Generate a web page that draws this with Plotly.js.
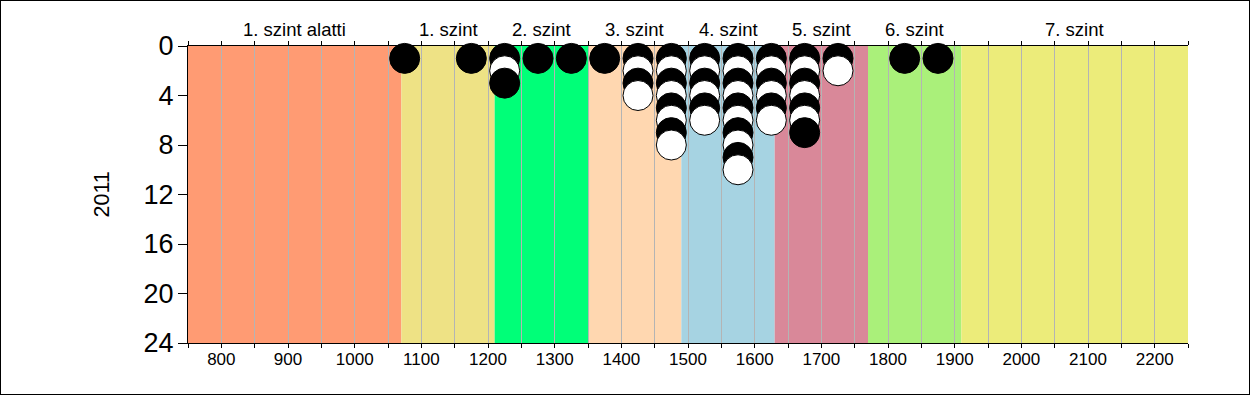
<!DOCTYPE html>
<html>
<head>
<meta charset="utf-8">
<script src="https://cdn.plot.ly/plotly-3.0.1.min.js"></script>
<style>
html,body{margin:0;padding:0;background:#fff;}
#chart{width:1248px;height:393px;border:1px solid #000;}
</style>
</head>
<body>
<div id="chart"></div>
<script>
// Level bands (score ranges)
const bandNames = ["1. szint alatti","1. szint","2. szint","3. szint","4. szint","5. szint","6. szint","7. szint"];
const bandEdges = [750,1070,1210,1350,1490,1630,1770,1910,2250];
const bandColors = ["#FF9B73","#EEE285","#00FF78","#FFD7B0","#A6D3E2","#D98899","#AAF07A","#ECEC7A"];

// Score bins (centres) and number of students in each bin
const binCenters = [1075,1175,1225,1275,1325,1375,1425,1475,1525,1575,1625,1675,1725,1825,1875];
const binCounts  = [1,1,3,1,1,1,4,8,6,10,6,7,2,1,1];

// Axis ticks
const xTickVals = [];
for (let v = 750; v <= 2250; v += 50) xTickVals.push(v);
const xTickText = xTickVals.map(v => (v % 100 === 0 ? String(v) : ""));
const yTickVals = [0,4,8,12,16,20,24];

// Build dot stack points
const px = [], py = [], pc = [];
binCenters.forEach((c, i) => {
  for (let k = 1; k <= binCounts[i]; k++) {
    px.push(c); py.push(k);
    pc.push(k % 2 === 1 ? "#000000" : "#FFFFFF");
  }
});

const shapes = bandNames.map((n, i) => ({
  type: "rect", xref: "x", yref: "paper",
  x0: bandEdges[i], x1: bandEdges[i+1], y0: 0, y1: 1,
  fillcolor: bandColors[i], line: {width: 0}, layer: "below"
}));

const annotations = bandNames.map((n, i) => ({
  text: n, xref: "x", yref: "paper",
  x: (bandEdges[i] + bandEdges[i+1]) / 2, y: 1.054,
  showarrow: false, xanchor: "center", yanchor: "middle",
  font: {family: "Liberation Sans, Arial, sans-serif", size: 18.5, color: "#000"}
}));
annotations.push({
  text: "2011", xref: "paper", yref: "paper",
  x: -0.087, y: 0.5, textangle: -90, showarrow: false,
  xanchor: "center", yanchor: "middle",
  font: {family: "Liberation Sans, Arial, sans-serif", size: 21.5, color: "#000"}
});

const trace = {
  type: "scatter", mode: "markers",
  x: px, y: py, cliponaxis: false, hoverinfo: "x+y",
  marker: {size: 30, color: pc, line: {color: "#000", width: 1}}
};

const layout = {
  width: 1248, height: 393,
  margin: {l: 187, r: 61, t: 45, b: 51},
  paper_bgcolor: "#fff", plot_bgcolor: "#fff",
  showlegend: false,
  font: {family: "Liberation Sans, Arial, sans-serif", color: "#000"},
  xaxis: {
    range: [750, 2250], tickmode: "array", tickvals: xTickVals, ticktext: xTickText,
    ticks: "outside", ticklen: 4, tickcolor: "#000", tickwidth: 1,
    showline: true, linecolor: "#000", linewidth: 1, mirror: "ticks",
    showgrid: true, gridcolor: "#B4B4B4", gridwidth: 1, zeroline: false,
    tickfont: {size: 17}, ticklabelstandoff: -3, fixedrange: true
  },
  yaxis: {
    range: [24, 0], tickmode: "array", tickvals: yTickVals,
    ticks: "outside", ticklen: 9, tickcolor: "#000",
    showline: true, linecolor: "#000", linewidth: 1,
    showgrid: false, zeroline: false,
    tickfont: {size: 27}, ticklabelstandoff: -1, fixedrange: true
  },
  shapes: shapes,
  annotations: annotations
};

Plotly.newPlot("chart", [trace], layout, {displayModeBar: false, staticPlot: true});
</script>
</body>
</html>
